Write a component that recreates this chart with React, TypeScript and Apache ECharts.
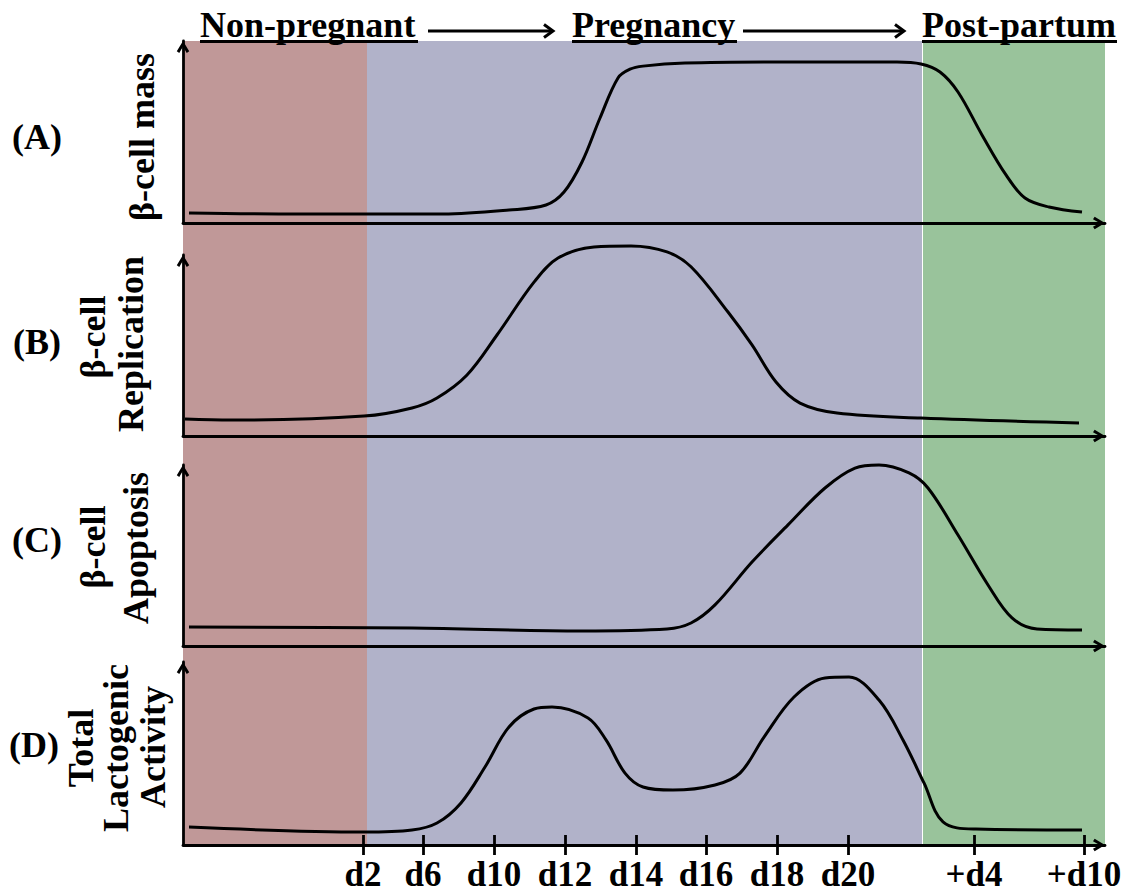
import React, { useEffect, useRef } from "react";
import * as echarts from "echarts";

// ---- timeline (abstract schematic units along the x axis) ----
const tickPositions = [180, 240, 311, 382, 453, 523, 594, 665, 791, 901];
const tickLabels = ["d2", "d6", "d10", "d12", "d14", "d16", "d18", "d20", "+d4", "+d10"];
const timelineMax = 922;

// ---- phases (background bands) ----
const phaseNames = ["Non-pregnant", "Pregnancy", "Post-partum"];
const phaseStarts = [0, 184, 739];
const phaseEnds = [184, 739, 922];
const phaseColors = ["#c09898", "#b1b2c9", "#99c39b"];

// ---- curves: [timeline position, relative level 0-100] ----
const betaCellMass = [
  [6, 5.5], [117, 4.9], [260, 4.9], [326, 7.1], [363, 9.9], [381, 17], [399, 33.5],
  [417, 57.7], [435, 79.7], [447, 84.5], [460, 86.2], [502, 87.9], [593, 88.5], [714, 88.5],
  [738, 87.4], [757, 83], [775, 72], [799, 48.4], [823, 26.4], [842, 13.7], [866, 8.8], [899, 6],
];
const betaCellReplication = [
  [2, 9.4], [48, 8.8], [181, 11], [229, 15.5], [254, 21], [284, 33.7], [314, 55.8],
  [351, 85], [375, 98.3], [411, 104.4], [448, 105], [484, 101.7], [508, 93.5], [545, 68.5],
  [569, 50.3], [593, 29.8], [617, 18.2], [654, 12.7], [738, 9.9], [896, 7.2],
];
const betaCellApoptosis = [
  [6, 10.5], [229, 9.9], [399, 8.3], [484, 9.4], [508, 12.7], [532, 22.7], [569, 46.4],
  [605, 66.9], [642, 87.3], [672, 98.3], [696, 100], [726, 95.6], [745, 87.3], [775, 61.3],
  [805, 33.7], [829, 15.5], [854, 9.4], [899, 8.8],
];
const lactogenicActivity = [
  [6, 9.8], [181, 7.1], [229, 8.2], [254, 12], [278, 23], [302, 42.6], [326, 64.5],
  [351, 74.3], [369, 75.4], [405, 69.4], [423, 57.4], [442, 39.3], [460, 31.7], [490, 30],
  [532, 32.8], [557, 39.3], [581, 59], [611, 80.9], [642, 91.3], [666, 91.8], [696, 79.2],
  [720, 57.4], [741, 33.9], [760, 12.6], [793, 8.7], [899, 8.2],
];

const panelLetters = ["(A)", "(B)", "(C)", "(D)"];
const panelTitles = [["β-cell mass"], ["β-cell", "Replication"], ["β-cell", "Apoptosis"], ["Total", "Lactogenic", "Activity"]];

const FONT = "'Liberation Serif', 'Times New Roman', serif";
const CHEVRON = "path://M0,10 L6,0 L12,10 L9.6,11.6 L6,5.2 L2.4,11.6 Z";

export default function App() {
  const ref = useRef<HTMLDivElement>(null);

  useEffect(() => {
    if (!ref.current) return;
    const chart = echarts.init(ref.current, undefined, { renderer: "svg" });

    const grids = [
      { left: 183, right: 29, top: 41, height: 182 },
      { left: 183, right: 29, top: 255, height: 181 },
      { left: 183, right: 29, top: 465, height: 181 },
      { left: 183, right: 29, top: 662, height: 183 },
      { left: 183, right: 29, top: 41, height: 804 },
    ];

    const axisLine = (w: number) => ({
      show: true,
      symbol: ["none", CHEVRON],
      symbolSize: [13, 12],
      symbolOffset: [0, -6],
      lineStyle: { color: "#000", width: w },
    });

    const xAxes: any[] = [0, 1, 2, 3].map((i) => ({
      type: "value",
      gridIndex: i,
      min: 0,
      max: timelineMax,
      position: "bottom",
      z: 10,
      axisLine: axisLine(2.8),
      axisTick: i === 3
        ? { show: true, customValues: tickPositions, length: 10, lineStyle: { color: "#000", width: 2.8 } }
        : { show: false },
      axisLabel: i === 3
        ? {
            show: true,
            customValues: tickPositions,
            margin: 12,
            color: "#000",
            fontSize: 35,
            fontWeight: "bold",
            fontFamily: FONT,
            formatter: (v: number) => {
              const k = tickPositions.findIndex((p) => Math.abs(p - v) < 0.5);
              return k >= 0 ? tickLabels[k] : "";
            },
          }
        : { show: false },
      splitLine: { show: false },
    }));
    // inner half of the bottom ticks
    xAxes.push({
      type: "value",
      gridIndex: 3,
      min: 0,
      max: timelineMax,
      position: "bottom",
      z: 10,
      axisLine: { show: false },
      axisTick: { show: true, inside: true, customValues: tickPositions, length: 10, lineStyle: { color: "#000", width: 2.8 } },
      axisLabel: { show: false },
      splitLine: { show: false },
    });
    // background grid axis
    xAxes.push({
      type: "value",
      gridIndex: 4,
      min: 0,
      max: timelineMax,
      show: false,
    });

    const yAxes: any[] = [0, 1, 2, 3].map((i) => ({
      type: "value",
      gridIndex: i,
      min: 0,
      max: 100,
      z: 10,
      axisLine: axisLine(2.8),
      axisTick: { show: false },
      axisLabel: { show: false },
      splitLine: { show: false },
    }));
    yAxes.push({ type: "value", gridIndex: 4, min: 0, max: 100, show: false });

    const curves = [betaCellMass, betaCellReplication, betaCellApoptosis, lactogenicActivity];

    const series: any[] = [
      {
        type: "line",
        xAxisIndex: 5,
        yAxisIndex: 4,
        data: [],
        z: 0,
        silent: true,
        markArea: {
          silent: true,
          z: 0,
          label: { show: false },
          data: phaseNames.map((name, k) => [
            { xAxis: phaseStarts[k], itemStyle: { color: phaseColors[k], opacity: 1 } },
            { xAxis: phaseEnds[k] },
          ]),
        },
        markLine: {
          silent: true,
          symbol: ["none", "none"],
          label: { show: false },
          lineStyle: { color: "#ffffff", width: 1, type: "solid" },
          data: [{ xAxis: phaseStarts[2] }],
        },
      },
      ...curves.map((d, i) => ({
        type: "line",
        xAxisIndex: i,
        yAxisIndex: i,
        data: d,
        smooth: 0.35,
        showSymbol: false,
        clip: false,
        z: 20,
        lineStyle: { color: "#000", width: 3 },
      })),
    ];

    const textStyle = (text: string, size: number, align: string) => ({
      text,
      fontSize: size,
      fontWeight: "bold",
      fontFamily: FONT,
      fill: "#000",
      align,
      textAlign: align,
      verticalAlign: "middle",
      textVerticalAlign: "middle",
    });

    const graphic: any[] = [];
    // phase titles, underlines
    const titleX = [200, 572, 922];
    const titleW = [218, 165, 195];
    phaseNames.forEach((name, k) => {
      graphic.push({ type: "text", x: titleX[k], y: 25, z: 50, style: textStyle(name, 36, "left") });
      graphic.push({
        type: "line",
        z: 50,
        shape: { x1: titleX[k], y1: 41.5, x2: titleX[k] + titleW[k], y2: 41.5 },
        style: { stroke: "#000", lineWidth: 3 },
      });
    });
    // arrows between titles
    const arrows = [[428, 553], [743, 904]];
    arrows.forEach(([a, b]) => {
      graphic.push({ type: "line", z: 50, shape: { x1: a, y1: 31, x2: b - 1, y2: 31 }, style: { stroke: "#000", lineWidth: 2.8 } });
      graphic.push({
        type: "polyline",
        z: 50,
        shape: { points: [[b - 9, 24.5], [b, 31], [b - 9, 37.5]] },
        style: { stroke: "#000", lineWidth: 3, fill: null },
      });
    });

    // panel letters
    const letterPos = [[37, 137], [37, 342], [37, 540], [34, 745]];
    panelLetters.forEach((t, i) => {
      graphic.push({ type: "text", x: letterPos[i][0], y: letterPos[i][1], z: 50, style: textStyle(t, 36, "center") });
    });

    // rotated y titles
    const titleLineX = [[141.5], [92.5, 131], [92.5, 135.5], [80.5, 116, 153]];
    const titleCenterY = [[137], [337, 344], [547, 548], [748, 748, 747]];
    panelTitles.forEach((lines, i) => {
      lines.forEach((t, j) => {
        graphic.push({
          type: "text",
          x: titleLineX[i][j],
          y: titleCenterY[i][j],
          rotation: Math.PI / 2,
          z: 50,
          style: textStyle(t, 36, "center"),
        });
      });
    });

    chart.setOption({
      animation: false,
      backgroundColor: "#ffffff",
      grid: grids,
      xAxis: xAxes,
      yAxis: yAxes,
      series,
      graphic,
    });

    return () => chart.dispose();
  }, []);

  return (
    <div
      ref={ref}
      style={{ position: "absolute", left: 0, top: 0, width: "1134px", height: "896px" }}
    />
  );
}
